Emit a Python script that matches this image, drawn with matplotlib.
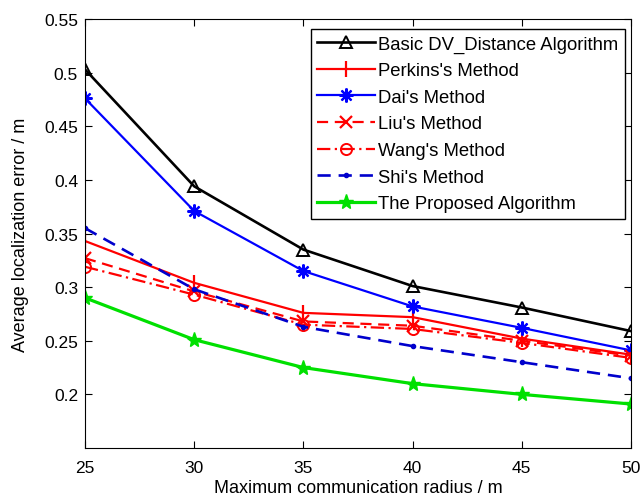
import matplotlib
matplotlib.use("Agg")
import matplotlib.pyplot as plt

plt.rcParams['font.family'] = ['Liberation Sans', 'DejaVu Sans']

radius = [25, 30, 35, 40, 45, 50]
basic = [0.503, 0.394, 0.335, 0.301, 0.281, 0.259]
perkins = [0.343, 0.304, 0.276, 0.272, 0.252, 0.237]
dai = [0.476, 0.371, 0.315, 0.282, 0.262, 0.241]
liu = [0.327, 0.296, 0.268, 0.264, 0.250, 0.236]
wang = [0.319, 0.293, 0.265, 0.261, 0.248, 0.234]
shi = [0.355, 0.298, 0.263, 0.245, 0.230, 0.215]
proposed = [0.290, 0.251, 0.225, 0.210, 0.200, 0.191]

labels = ["Basic DV_Distance Algorithm", "Perkins's Method", "Dai's Method",
          "Liu's Method", "Wang's Method", "Shi's Method", "The Proposed Algorithm"]
yticks = [0.2, 0.25, 0.3, 0.35, 0.4, 0.45, 0.5, 0.55]
ytick_labels = ['0.2', '0.25', '0.3', '0.35', '0.4', '0.45', '0.5', '0.55']

W, H = 640, 502
fig = plt.figure(figsize=(W/100, H/100), dpi=100)
L, R, T, B = 85, 631, 20, 449
ax = fig.add_axes([L/W, 1-B/H, (R-L)/W, (B-T)/H])

ax.plot(radius, basic, color='black', marker='^', markersize=9, markerfacecolor='none',
        markeredgewidth=1.4, lw=1.9, label=labels[0])
ax.plot(radius, perkins, color='red', marker='|', markersize=12, markeredgewidth=1.6,
        lw=1.6, label=labels[1])
ax.plot(radius, dai, color='blue', marker=(8, 2, 0), markersize=10, markeredgewidth=1.6,
        lw=1.6, label=labels[2])
ax.plot(radius, liu, color='red', marker='x', markersize=8, markeredgewidth=1.6,
        lw=1.6, ls=(0, (5, 3)), label=labels[3])
ax.plot(radius, wang, color='red', marker='o', markersize=8, markerfacecolor='none',
        markeredgewidth=1.4, lw=1.6, ls=(0, (6, 2, 1, 2)), label=labels[4])
ax.plot(radius, shi, color='#0000cc', marker='.', markersize=6, lw=1.9, ls=(0, (5, 3)),
        label=labels[5])
ax.plot(radius, proposed, color='#00e000', marker='*', markersize=11, lw=2.3,
        label=labels[6])

ax.set_xlim(25, 50)
ax.set_ylim(0.15, 0.55)
ax.set_xticks(radius)
ax.set_yticks(yticks)
ax.set_yticklabels(ytick_labels)
ax.tick_params(direction='in', top=True, right=True, labelsize=12.5, length=5, pad=5)
ax.tick_params(axis='x', pad=9)
ax.set_xlabel("Maximum communication radius / m", fontsize=13, labelpad=2.5)
ax.set_ylabel("Average localization error / m", fontsize=13, labelpad=11)

leg = ax.legend(loc='upper right', bbox_to_anchor=(625/W, 1-30/H),
                bbox_transform=fig.transFigure, borderaxespad=0, fontsize=13.3,
                frameon=True, fancybox=False, edgecolor='black', framealpha=1,
                handlelength=3.1, borderpad=0.35, labelspacing=0.52, handletextpad=0.2)
leg.get_frame().set_linewidth(1.0)

fig.savefig("out.png", dpi=100)
